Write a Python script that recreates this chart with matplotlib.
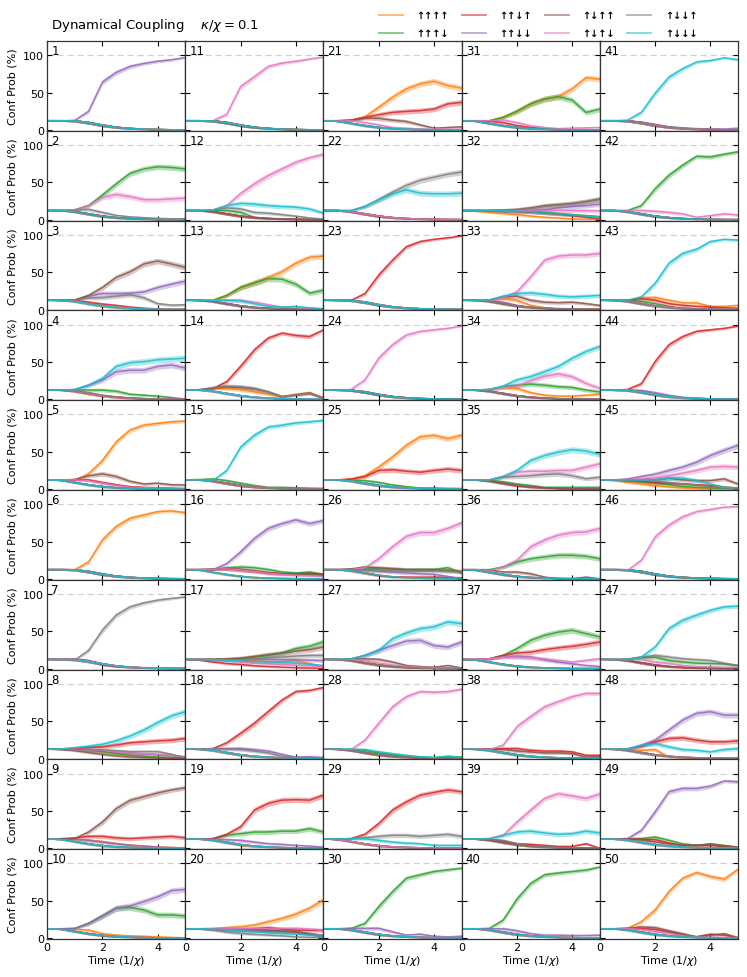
import numpy as np
import matplotlib
matplotlib.use("Agg")
import matplotlib.pyplot as plt

# time grid (1/chi) shared by every series
T = [0, 0.5, 1, 1.5, 2, 2.5, 3, 3.5, 4, 4.5, 5]

CONFIGS = ['↑↑↑↑', '↑↑↑↓', '↑↑↓↑', '↑↑↓↓', '↑↓↑↑', '↑↓↑↓', '↑↓↓↑', '↑↓↓↓']
COLORS = ['tab:orange', 'tab:green', 'tab:red', 'tab:purple',
          'tab:brown', 'tab:pink', 'tab:gray', 'tab:cyan']

# background profiles for the configurations that just die away
decay_late = [12.5, 12.5, 12.3, 10, 6.5, 3.8, 2.2, 1.2, 0.7, 0.4, 0.3]
decay_mid = [12.5, 12.5, 11, 8, 5, 3, 1.8, 1, 0.6, 0.4, 0.3]
decay_early = [12.5, 11.8, 9, 6, 3.5, 2, 1.2, 0.7, 0.4, 0.3, 0.2]

# one dict per panel: config index -> values (%), 'rest' -> profile for the others
p1 = {'rest': decay_late, 3: [12.5, 12.5, 13, 25, 64, 77, 85, 89, 92, 94, 97]}
p2 = {'rest': decay_mid,
      1: [12.5, 12.5, 13.5, 19, 33, 48, 62, 68, 71, 70, 68],
      5: [12.5, 12.5, 13.5, 19, 30, 34, 31, 27, 27, 28, 29],
      6: [12.5, 12.5, 13, 14, 10, 6, 4, 3, 2, 1.5, 1.5]}
p3 = {'rest': decay_mid,
      4: [12.5, 12.5, 13, 19, 29.5, 43, 50.5, 61, 65, 61, 56.5],
      3: [12.5, 12.5, 13, 18, 21.5, 21.5, 22, 23.6, 29.5, 34, 38],
      6: [12.5, 12.5, 13, 15.5, 16, 18, 20, 16, 8, 6, 6.6],
      2: [12.5, 12.5, 12, 10, 7.5, 5.7, 3.5, 2, 1, 0.5, 0.3]}
p4 = {'rest': decay_mid,
      7: [12.5, 12.5, 13.3, 19, 28, 44, 49, 50.5, 53, 54, 55],
      3: [12.5, 12.5, 13.3, 19, 26, 37, 39, 39, 44, 46, 42],
      1: [12.5, 12.5, 12.5, 12.5, 12.5, 11, 7, 5.7, 4.4, 2.6, 0.5],
      6: [12.5, 12.5, 11.5, 9, 5.7, 3.5, 2, 1, 0.5, 0.3, 0.2]}
p5 = {'rest': decay_early,
      0: [12.5, 12.5, 12, 20.5, 38, 63, 79, 85.5, 88, 90, 91],
      4: [12.5, 12.5, 13, 18, 20.5, 17, 10.6, 7, 8, 6, 5.7],
      5: [12.5, 12.5, 12.5, 11.5, 8, 5, 2.6, 2, 1.5, 1, 0.3],
      2: [12.5, 12.5, 12.8, 12.5, 9, 6, 3.5, 2.5, 2, 1.5, 1]}
p6 = {'rest': decay_late, 0: [12.5, 12.5, 12.5, 22.7, 52, 70, 81, 85.5, 90, 91, 88.6]}
p7 = {'rest': decay_late,
      6: [12.5, 12.5, 11.5, 24.5, 51.4, 71.6, 82.7, 88, 91.7, 94, 96],
      2: [12.5, 12.5, 13, 11, 5.7, 3, 2, 1.5, 1, 0.8, 0.5]}
p8 = {'rest': decay_mid,
      7: [12.5, 13, 14.7, 16.5, 19, 23.6, 30, 38, 48, 57, 62.6],
      2: [12.5, 13, 13.3, 14.7, 15.6, 18, 21, 22.3, 23.6, 24.5, 26.8],
      6: [12.5, 12.5, 12.3, 12, 11.5, 10.5, 9.3, 9.3, 9.3, 5.7, 1.2],
      5: [12.5, 12.5, 12, 11.5, 11, 9, 7.5, 6.5, 5.7, 4.5, 2],
      3: [12.5, 12.5, 12, 11.5, 10.5, 8.5, 7, 6, 5, 4, 2.5],
      1: [12.5, 12.5, 12, 11, 9.3, 6.5, 4.4, 3, 2, 1.5, 1],
      0: [12.5, 12.5, 12, 11, 9.3, 7, 4.4, 3, 1.5, 1, 0.5],
      4: [12.5, 12, 10.6, 8, 5.7, 3.5, 2, 1.2, 0.8, 0.5, 0.3]}
p9 = {'rest': decay_early,
      4: [12.5, 12.5, 13, 21.8, 35, 53, 64, 69, 74, 78, 81],
      2: [12.5, 13, 14, 16, 16, 14, 13, 14, 15, 16, 14],
      3: [12.5, 12.5, 12, 10.6, 8.4, 6, 4, 3, 1.7, 1, 0.5],
      0: [12.5, 12.5, 12, 11, 9, 6.5, 4.5, 3, 2, 1.2, 0.5]}
p10 = {'rest': decay_early,
       3: [12.5, 12.5, 13, 19.6, 29.5, 40, 43, 48.7, 55, 63.5, 65],
       1: [12.5, 12.5, 13, 19.6, 29.5, 40, 41, 37.5, 31, 31, 29.5],
       0: [12.5, 12.5, 12, 10.6, 6, 4, 3, 2.5, 1.7, 1, 0.3]}
p11 = {'rest': decay_late, 5: [12.5, 12.5, 12.5, 21, 58, 71, 85, 89.5, 92, 95, 97.5]}
p12 = {'rest': decay_mid,
       5: [12.5, 12.5, 13.3, 19, 35, 48, 59, 68, 77, 83, 87.6],
       7: [12.5, 12.5, 13.3, 19, 22, 21, 19, 17.8, 17, 14.6, 9],
       6: [12.5, 12.5, 13.3, 16, 14.6, 10, 9, 7, 5, 2.6, 1.2],
       1: [12.5, 12.5, 12.5, 12.5, 10, 3.5, 2, 1.5, 1, 0.5, 0.3]}
p13 = {'rest': decay_mid,
       0: [12.5, 12.5, 12.5, 19, 29.5, 35.7, 43, 50.5, 62, 70, 71.6],
       1: [12.5, 12.5, 12.5, 19, 29.5, 35.7, 41.5, 40.6, 34, 22, 26],
       5: [12.5, 12.5, 12.5, 12.5, 12.5, 10, 6.6, 3.5, 2.5, 1.5, 1.2],
       7: [12.5, 12.5, 12.5, 12.5, 12, 8, 4.4, 3.5, 4.4, 2.5, 1.2]}
p14 = {'rest': decay_mid,
       2: [12.5, 12.5, 14.7, 23.6, 44, 66, 82, 88.6, 85.5, 84, 93],
       6: [12.5, 13, 16, 18, 17, 14.7, 10, 3.5, 5.7, 9, 1.2],
       0: [12.5, 13, 14.7, 14.7, 13.3, 10, 7, 3.5, 7, 9, 2.6],
       4: [12.5, 13, 15, 16.5, 16, 14, 10, 4, 6, 8, 1.5]}
p15 = {'rest': decay_mid,
       7: [12.5, 12.5, 11.5, 25, 56, 72, 83, 85.5, 88.6, 90, 92],
       1: [12.5, 13, 13.8, 11.5, 8, 5, 2.6, 2.6, 2, 1.5, 1.2]}
p16 = {'rest': decay_early,
       3: [12.5, 12.5, 12.5, 20.5, 36, 54, 67.5, 74, 79, 74, 78],
       1: [12.5, 12.5, 13, 15, 16, 15, 12.5, 9.3, 8, 9.3, 6.2],
       2: [12.5, 12.5, 13, 13.8, 12.5, 10.6, 8.4, 7, 7, 7.5, 6.2],
       5: [12.5, 12.5, 13, 13.5, 12, 10, 7.5, 6, 4.8, 4, 3.5],
       4: [12.5, 12.5, 13, 13.5, 12.5, 10.5, 8, 7, 6.5, 6, 5]}
p17 = {'rest': decay_mid,
       1: [12.5, 12.5, 12.5, 12.8, 13.3, 15.6, 17.8, 21, 27, 30, 36],
       4: [12.5, 12.5, 12.5, 13.3, 14.2, 16.5, 19, 21, 23.6, 25.5, 29],
       6: [12.5, 12.5, 12.5, 12.3, 12, 13, 14.7, 15.6, 17, 17.8, 17.8],
       3: [12.5, 12.5, 12.5, 12.5, 12.5, 12.5, 12.3, 12, 12, 11.5, 11],
       0: [12.5, 12.5, 12.3, 12, 11.5, 10.5, 9, 9.5, 10.6, 7, 2.6],
       7: [12.5, 12.3, 12, 11.5, 10.6, 9.5, 9, 8.3, 7.5, 6, 4.4],
       5: [12.5, 12.3, 11.8, 10.5, 9, 7.5, 6.6, 5.5, 4.8, 3.8, 3],
       2: [12.5, 11.5, 9, 7, 5.7, 4, 3, 2.2, 1.5, 1, 0.5]}
p18 = {'rest': decay_mid,
       2: [12.5, 12.5, 13.3, 21, 33.5, 47, 62.6, 78, 89.5, 91, 95],
       3: [12.5, 12.5, 13.3, 13.3, 13.3, 12, 10, 5.7, 2, 2.5, 1.5],
       6: [12.5, 12.5, 13, 12.8, 12.5, 10, 7.5, 3, 1.5, 1, 0.8]}
p19 = {'rest': decay_mid,
       2: [12.5, 12.5, 13, 18.7, 28.6, 51, 60, 64.4, 65, 64.4, 71],
       1: [12.5, 12.5, 13, 17.4, 19.6, 21.8, 21.8, 23, 23, 26.3, 21.8],
       3: [12.5, 12.5, 12.5, 11.5, 10.6, 8.4, 6.2, 5.3, 4, 3, 1.7],
       0: [12.5, 12.5, 11.5, 8.4, 4, 2.5, 1.5, 1, 0.7, 0.5, 0.3]}
p20 = {'rest': decay_mid,
       0: [12.5, 12.5, 13, 14, 15, 17.4, 21.8, 26.3, 32, 40, 51],
       2: [12.5, 12.5, 12.5, 12, 11.5, 12.5, 14, 12, 10.6, 10.6, 10.6],
       5: [12.5, 12.5, 12.5, 12.5, 12.5, 12.8, 13, 12.8, 13, 12, 10.6],
       4: [12.5, 12.5, 12.5, 12.3, 12, 11.5, 10.6, 9.5, 8.4, 5, 1.7],
       7: [12.5, 12.5, 12, 11, 10, 8.5, 7, 6, 5.3, 4, 2.6],
       6: [12.5, 12, 10.6, 8, 6.2, 5, 4, 3, 1.7, 1, 0.8],
       3: [12.5, 12.5, 12.3, 11.5, 10.6, 10, 9.5, 9, 8.4, 6, 3.5],
       1: [12.5, 12.5, 12.3, 11.5, 10.6, 10, 9.5, 9, 8.4, 6, 3.5]}
p21 = {'rest': decay_early,
       0: [12.5, 12.5, 13.3, 17.8, 30.4, 43.8, 55, 61.7, 65.3, 59.5, 56],
       2: [12.5, 12.5, 13.3, 17, 20.5, 23.6, 25, 26, 28, 35, 37],
       4: [12.5, 12.5, 13, 16, 15.6, 13.3, 11.5, 7, 2.6, 3.5, 4.4],
       5: [12.5, 12.5, 12.5, 10, 7, 3.5, 2.5, 1.5, 1.2, 1, 1]}
p22 = {'rest': decay_mid,
       6: [12.5, 12.5, 12.5, 17.8, 26.8, 37, 46, 52.8, 57, 61, 64],
       7: [12.5, 12.5, 12.5, 17.8, 26.8, 34.8, 40, 35.7, 34.8, 34.8, 35.7]}
p23 = {'rest': decay_late, 2: [12.5, 12.5, 12.5, 21.4, 46, 66, 84, 91, 94, 96, 98.5]}
p24 = {'rest': decay_late, 5: [12.5, 12.5, 13.3, 26, 55, 73, 86, 90.8, 93, 95, 98]}
p25 = {'rest': decay_mid,
       0: [12.5, 12.5, 13.8, 18, 29.5, 43, 58.6, 70, 72, 67.5, 72],
       2: [12.5, 12.5, 13.5, 17, 25, 26, 24, 22.7, 25, 27, 25],
       1: [12.5, 12.5, 12, 11.5, 9, 5.7, 3.5, 1.5, 1.7, 1.2, 1]}
p26 = {'rest': decay_mid,
       5: [12.5, 12.5, 12.5, 15, 27, 43, 57, 62, 62, 67.5, 75],
       1: [12.5, 12.5, 13, 13.8, 13.8, 13.3, 12.5, 12.5, 12.5, 15, 8],
       4: [12.5, 12.5, 13.5, 16, 15, 13.8, 12.5, 12.5, 12.5, 11.5, 10.6],
       6: [12.5, 12.5, 12.5, 12, 11.5, 11, 10.6, 10.6, 10.6, 10, 9],
       3: [12.5, 12.5, 12.5, 11.5, 10.6, 9.3, 8, 7, 6.2, 3.5, 0.3],
       2: [12.5, 12.5, 11, 8, 4.8, 2.6, 2.6, 2.5, 2.6, 2, 1.7]}
p27 = {'rest': decay_mid,
       7: [12.5, 12.5, 13.3, 17.8, 24.5, 40, 47.8, 53.6, 56, 62.6, 60.4],
       3: [12.5, 12.5, 13.3, 17.8, 24.5, 31, 37, 38, 31, 29, 35.7],
       4: [12.5, 12.5, 13, 13.3, 12.5, 9, 4.4, 3, 2.1, 4.4, 1.2],
       5: [12.5, 12.5, 12, 11, 7.5, 5, 3, 2, 1.5, 1, 0.5]}
p28 = {'rest': decay_mid,
       5: [12.5, 12.5, 12, 24.5, 47, 69, 82.7, 89.5, 88.6, 89.5, 92.6],
       7: [12.5, 12.5, 12.5, 12, 9, 6.6, 4.4, 2.5, 1.2, 3, 1.2],
       1: [12.5, 12.5, 12.3, 11, 7.5, 5, 3, 2, 1.5, 3, 2]}
p29 = {'rest': decay_early,
       2: [12.5, 12.5, 13, 18.7, 33, 51, 62, 71, 74.7, 78, 75.6],
       6: [12.5, 12.5, 13, 14.2, 16, 17.4, 17.4, 16, 17.4, 18.7, 16],
       7: [12.5, 12.5, 13, 13, 10.6, 8.4, 7, 6.2, 4, 4, 4]}
p30 = {'rest': decay_mid,
       1: [12.5, 12.5, 13, 19.6, 42, 62, 80, 84.6, 89, 91.3, 93.5],
       3: [12.5, 12.5, 13, 13, 13, 8.4, 4, 5.3, 2.6, 1.7, 2.6]}
p31 = {'rest': decay_early,
       0: [12.5, 12.5, 12.5, 17, 25, 35, 41.5, 44.7, 55, 70, 68],
       1: [12.5, 12.5, 12.5, 17, 25, 35, 41.5, 44.7, 40, 23.6, 28],
       5: [12.5, 12.5, 12.5, 13.3, 10, 5.7, 3.5, 2, 2.6, 3, 3.5],
       2: [12.5, 12.5, 12, 10, 6, 3.5, 2, 1.2, 0.8, 0.5, 0.3]}
p32 = {'rest': decay_mid,
       4: [12.5, 12.5, 12.5, 13, 13.8, 16, 19, 20.5, 22, 24.5, 28],
       6: [12.5, 12.5, 12.5, 12.8, 13.3, 15, 17.8, 19.5, 21, 24, 27],
       3: [12.5, 12.5, 12.5, 12.5, 12.5, 12.8, 13.3, 16, 17.8, 19, 21],
       5: [12.5, 12.5, 12.5, 12.5, 12.5, 12.5, 12.5, 12.5, 12.5, 12.3, 12],
       1: [12.5, 12.5, 12.3, 12, 11.5, 11, 10, 8.5, 7, 5.7, 4.4],
       7: [12.5, 12.5, 12.3, 12, 11.5, 10.8, 9.5, 8, 6.5, 5, 3.5],
       2: [12.5, 12.5, 12.3, 12, 11.5, 10.5, 9, 7.5, 5.7, 3.5, 1.2],
       0: [12.5, 11.5, 10, 8.5, 7, 5, 3.5, 2.5, 1.2, 0.8, 0.5]}
p33 = {'rest': decay_mid,
       5: [12.5, 12.5, 12.5, 16, 23.6, 43.8, 66, 71.6, 73, 73, 75],
       7: [12.5, 12.5, 13, 18, 21.4, 22.3, 20.5, 18, 17, 18, 19],
       4: [12.5, 12.5, 13, 17, 18, 12.5, 10, 9.3, 10, 8, 5.7],
       0: [12.5, 12.5, 13, 14.7, 12.5, 5.7, 2.6, 1.5, 1.2, 1, 0.8],
       3: [12.5, 12.5, 12, 10, 5.7, 3, 1.5, 1, 0.5, 0.3, 0.3]}
p34 = {'rest': decay_mid,
       7: [12.5, 12.5, 13.3, 17.8, 26, 30.4, 37, 44, 55, 64, 70.7],
       5: [12.5, 12.5, 13.3, 16, 17.8, 25, 31, 34, 30.4, 21.4, 14.7],
       1: [12.5, 12.5, 13.3, 17, 19, 20.5, 19, 17, 16, 12.5, 10],
       0: [12.5, 12.5, 13.3, 16, 14.7, 9, 5.7, 4.4, 4.4, 5.7, 7]}
p35 = {'rest': decay_mid,
       7: [12.5, 12.5, 12.5, 17, 25, 38.4, 45, 49.6, 52.8, 51, 46.5],
       5: [12.5, 12.5, 12.5, 17, 22.7, 24, 24, 25, 25, 29.5, 34],
       6: [12.5, 12.5, 12.5, 16, 17, 18, 19.6, 20.5, 18, 14, 16],
       1: [12.5, 12.5, 12, 10, 7, 5, 2.6, 2.6, 2.6, 2.6, 2.6]}
p36 = {'rest': decay_early,
       5: [12.5, 12.5, 11.5, 16, 25, 43, 52, 58.6, 62, 63, 67.5],
       1: [12.5, 12.5, 12.5, 16, 22.7, 27, 29.5, 31.7, 31.7, 30.4, 27],
       4: [12.5, 12.5, 12, 9.3, 9.3, 7, 2.6, 0.3, 0.3, 2.6, 0.3]}
p37 = {'rest': decay_early,
       1: [12.5, 12.5, 13.3, 17.8, 26.8, 38, 44.7, 49, 51.4, 47, 42.5],
       2: [12.5, 12.5, 13.3, 17.8, 21, 22.3, 25.5, 28, 30, 32.6, 35.7],
       5: [12.5, 12.5, 13.3, 15.6, 15.6, 14.7, 13.3, 11, 9, 11, 13.3],
       3: [12.5, 12.5, 13.3, 15.6, 16.5, 15.6, 12, 9, 6.6, 4.4, 3]}
p38 = {'rest': decay_mid,
       5: [12.5, 12.5, 12, 17.8, 42.5, 56, 69, 76, 82.7, 87, 87],
       2: [12.5, 12.5, 12.8, 13.3, 13.3, 11, 10, 10, 8.9, 4.4, 4.4],
       4: [12.5, 12.5, 12.5, 12.5, 10, 8.9, 7.5, 7.5, 6.6, 2, 2.5]}
p39 = {'rest': decay_mid,
       5: [12.5, 12.5, 13, 17.4, 35, 51, 66.6, 73, 70, 66.6, 72.5],
       7: [12.5, 12.5, 13, 17.4, 21.8, 23, 20.5, 18.7, 19.6, 23, 20.5],
       2: [12.5, 12.5, 12, 9.8, 6.2, 5.3, 4, 2.6, 2.6, 6.2, 0.3],
       6: [12.5, 12.5, 12, 10.6, 6.2, 2.6, 1.5, 1, 0.7, 0.5, 0.3]}
p40 = {'rest': decay_mid,
       1: [12.5, 12.5, 13, 24, 52, 73, 84.6, 87, 89, 91, 95],
       3: [12.5, 12.5, 12.5, 12.5, 9.8, 6, 4, 4, 3.5, 3.5, 4]}
p41 = {'rest': decay_late,
       7: [12.5, 12.5, 13.3, 23.6, 49, 70.7, 82, 91, 93, 96.6, 94],
       3: [12.5, 12.5, 12.5, 10.5, 7.5, 4.5, 3, 2, 1.5, 1.5, 2.6]}
p42 = {'rest': decay_mid,
       1: [12.5, 12.5, 12.5, 19, 41.5, 59.5, 73, 85, 84, 87.7, 91],
       5: [12.5, 12.5, 12.5, 12.5, 11.5, 10, 8, 3.5, 5.7, 8, 6.6]}
p43 = {'rest': decay_mid,
       7: [12.5, 12.5, 12.5, 17, 35, 62, 75, 80.6, 91, 94, 93],
       0: [12.5, 12.5, 12.5, 16, 16, 12.5, 9, 9, 4.4, 4.4, 5.7],
       2: [12.5, 12.5, 12.5, 14.7, 12.5, 8, 5.7, 4.5, 3.5, 2.5, 2],
       1: [12.5, 12.5, 12.5, 11, 8, 4.4, 1.5, 1, 0.5, 0.3, 0.3]}
p44 = {'rest': decay_late,
       2: [12.5, 12.5, 13.3, 21, 50.5, 73, 84, 91, 93, 95, 98],
       3: [12.5, 12.5, 12.8, 12, 9, 5.5, 3, 1.8, 1, 0.6, 0.4]}
p45 = {'rest': decay_mid,
       3: [12.5, 12.5, 13.8, 17, 20, 25, 29.5, 36, 45, 52, 58.6],
       5: [12.5, 12.5, 12.8, 13.8, 15, 18, 21.4, 25, 29.5, 30.4, 29.5],
       4: [12.5, 12.5, 12.5, 12.5, 12.5, 14.6, 12.5, 11.5, 11.5, 13.8, 7],
       7: [12.5, 12.5, 12.5, 12.5, 12.5, 15, 15, 11.5, 7, 2.6, 1.7],
       2: [12.5, 12.3, 11.5, 10.5, 9, 8, 7, 6, 5, 3, 1.7],
       1: [12.5, 12.3, 11.5, 10, 8, 6, 3.5, 2.5, 1.8, 1.2, 0.8],
       0: [12.5, 11.5, 9, 7, 4.8, 3, 1.7, 1, 0.6, 0.4, 0.3],
       6: [12.5, 12.5, 12, 11.5, 11, 9, 7, 5.5, 3.5, 2, 1]}
p46 = {'rest': decay_late, 5: [12.5, 12.5, 11.5, 25, 56, 72, 83, 90, 93, 96, 96.7]}
p47 = {'rest': decay_mid,
       7: [12.5, 12.5, 12, 15.6, 29, 53.6, 64.8, 71.6, 78, 82.7, 83.7],
       6: [12.5, 12.5, 13, 15.6, 17.8, 15.6, 13.3, 12, 11, 7.5, 4.4],
       1: [12.5, 12.5, 13, 14.7, 15.6, 11, 9, 7.5, 7, 6.5, 4.4],
       5: [12.5, 12.5, 12.5, 12.5, 9, 7, 4.4, 3, 2.5, 2, 2]}
p48 = {'rest': decay_mid,
       3: [12.5, 12.5, 12.5, 17.8, 24.5, 38, 51.4, 60.4, 62.6, 58, 58],
       2: [12.5, 12.5, 13, 16.5, 22.3, 26.8, 27.7, 24.5, 22.3, 22.3, 23.6],
       7: [12.5, 12.5, 13, 17.8, 20, 15.6, 12, 11, 8.9, 12, 13.3],
       0: [12.5, 12.5, 12.5, 11, 12, 2, 1.2, 1, 0.8, 0.8, 0.5]}
p49 = {'rest': decay_mid,
       3: [12.5, 12.5, 13, 24, 48.7, 75.6, 80, 80, 83, 90, 89],
       1: [12.5, 12.5, 13, 13, 15, 10.6, 6, 4, 6.2, 4, 1.7],
       2: [12.5, 12.5, 12.5, 12, 11.5, 7, 4, 4, 4, 2.5, 1],
       4: [12.5, 12.5, 12.5, 11.5, 8.4, 6, 4, 4, 5.3, 3, 1.5]}
p50 = {'rest': decay_mid,
       0: [12.5, 12.5, 13, 21.8, 37.5, 62, 80, 87.6, 82.3, 78.7, 92],
       4: [12.5, 12.5, 13, 15, 14, 9.8, 6, 1.7, 4, 6, 0.8],
       2: [12.5, 12.5, 13, 13, 11.5, 8.4, 4, 2, 5.3, 4, 0.5],
       5: [12.5, 12.5, 12.8, 11.5, 8.4, 6, 3, 1.5, 1, 0.8, 0.5]}

panels = [p1, p2, p3, p4, p5, p6, p7, p8, p9, p10,
          p11, p12, p13, p14, p15, p16, p17, p18, p19, p20,
          p21, p22, p23, p24, p25, p26, p27, p28, p29, p30,
          p31, p32, p33, p34, p35, p36, p37, p38, p39, p40,
          p41, p42, p43, p44, p45, p46, p47, p48, p49, p50]

# how far the shaded band has opened up at each time
spread = [0, 0.3, 0.6, 0.85, 1, 1, 1, 1, 1, 1, 1]

fig, axes = plt.subplots(10, 5, figsize=(7.47, 9.78), dpi=100, sharex=True, sharey=True)
fig.subplots_adjust(left=0.063, right=0.988, top=0.957, bottom=0.039, wspace=0, hspace=0)

t = np.array(T)
for col in range(5):
    for row in range(10):
        ax = axes[row, col]
        n = col * 10 + row
        data = panels[n]
        ax.axhline(100, color='0.82', ls='--', lw=0.9, dashes=(5, 3), zorder=0)
        for k in range(8):
            y = np.array(data.get(k, data['rest']), dtype=float)
            half = 0.08 * np.sqrt(np.clip(y * (100 - y), 0, None)) * np.array(spread)
            ax.fill_between(t, y - half, y + half, color=COLORS[k], alpha=0.35, lw=0)
            ax.plot(t, y, color=COLORS[k], lw=1.1, alpha=0.85)
        ax.text(0.03, 0.965, str(n + 1), transform=ax.transAxes, fontsize=8.5,
                ha='left', va='top')
        ax.set_xlim(0, 5)
        ax.set_ylim(-1, 119)
        ax.set_xticks([0, 2, 4])
        ax.set_yticks([0, 50, 100])
        ax.tick_params(direction='in', top=True, right=True, length=3.5,
                       width=0.8, labelsize=8, pad=2)
        for s in ax.spines.values():
            s.set_color('0.2')
            s.set_linewidth(0.9)
        if col == 0:
            ax.set_ylabel('Conf Prob (%)', fontsize=8, labelpad=4)
        if row == 9:
            ax.set_xlabel('Time ($1/\\chi$)', fontsize=8, labelpad=1)

fig.text(51 / 747, 0.974, 'Dynamical Coupling    $\\kappa/\\chi = 0.1$', fontsize=9.5,
         ha='left', va='center')

handles = [plt.Line2D([], [], color=c, lw=1.3, alpha=0.6) for c in COLORS]
fig.legend(handles, CONFIGS, loc='upper left', bbox_to_anchor=(379 / 747, 1 - 11 / 978),
           ncol=4, frameon=False, prop={'size': 7, 'weight': 'bold'},
           handlelength=2.47, handletextpad=1.4, columnspacing=1.3,
           labelspacing=0.85, borderaxespad=0, borderpad=0)

fig.savefig('out.png', dpi=100)
